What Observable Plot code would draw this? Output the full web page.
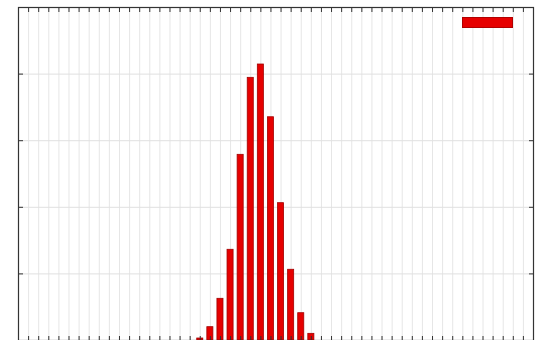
<!DOCTYPE html>
<html>
<head>
<meta charset="utf-8">
<script src="https://cdn.jsdelivr.net/npm/d3@7"></script>
<script src="https://cdn.jsdelivr.net/npm/@observablehq/plot@0.6"></script>
<style>
  html, body { margin: 0; padding: 0; background: #fff; }
  #wrap { position: relative; width: 535px; height: 340px; overflow: hidden; }
  #legend { position: absolute; left: 462px; top: 17px; width: 49px; height: 9px;
            background: #e60000; border: 1px solid #b00000; }
</style>
</head>
<body>
<div id="wrap"><div id="legend"></div></div>
<script>
// bin index (x) and probability (y)
const bins  = [17, 18, 19, 20, 21, 22, 23, 24, 25, 26, 27, 28];
const probs = [0.0015, 0.010, 0.0313, 0.0681, 0.1394, 0.1972, 0.2072, 0.1676, 0.1031, 0.0531, 0.0205, 0.005];
const xTicks = d3.range(0, 50);
const yTicks = [0.05, 0.10, 0.15, 0.20];

const data = bins.map((b, i) => ({bin: b, p: probs[i]}));

const chart = Plot.plot({
  width: 535,
  height: 340,
  marginLeft: 18,
  marginRight: 2,
  marginTop: 7,
  marginBottom: 0,
  style: {background: "#fff"},
  x: {domain: [-1, 50], label: null},
  y: {domain: [0, 0.25], label: null},
  marks: [
    Plot.gridX(xTicks, {stroke: "#e6e6e6", strokeOpacity: 1, strokeWidth: 1}),
    Plot.gridY(yTicks, {stroke: "#e0e0e0", strokeOpacity: 1, strokeWidth: 1}),
    Plot.rectY(data, {
      x1: d => d.bin - 0.3, x2: d => d.bin + 0.3, y1: 0, y2: "p",
      fill: "#e60000", stroke: "#a30000", strokeWidth: 0.8
    }),
    Plot.axisX(xTicks, {anchor: "top", tickSize: -4, tickFormat: () => "", label: null, stroke: "#333"}),
    Plot.axisX(xTicks, {anchor: "bottom", tickSize: -4, tickFormat: () => "", label: null, stroke: "#333"}),
    Plot.axisY(yTicks, {anchor: "left", tickSize: -5, tickFormat: () => "", label: null, stroke: "#333"}),
    Plot.axisY(yTicks, {anchor: "right", tickSize: -5, tickFormat: () => "", label: null, stroke: "#333"}),
    Plot.frame({stroke: "#333", strokeWidth: 1.2})
  ]
});
document.getElementById("wrap").prepend(chart);
</script>
</body>
</html>
